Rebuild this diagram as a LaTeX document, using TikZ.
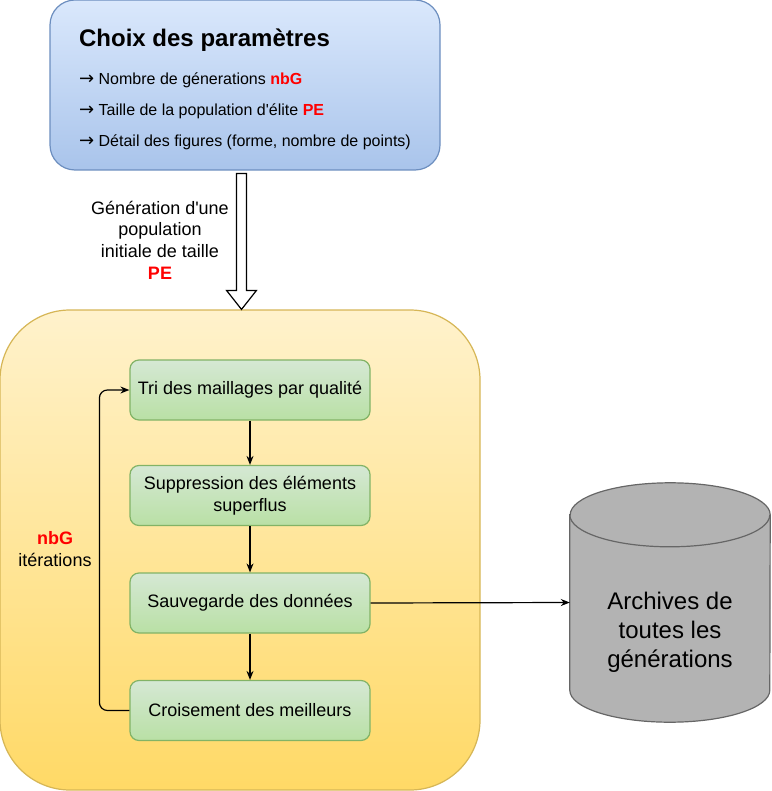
\documentclass[tikz,border=0pt]{standalone}
\usepackage{fontspec}
\setmainfont{Liberation Sans}[Ligatures=TeXOff]
\newfontfamily\arrowfont{DejaVu Sans}
\usepackage{xcolor}
\usetikzlibrary{arrows.meta,positioning,calc}

\definecolor{blueTop}{HTML}{DAE8FC}
\definecolor{blueBot}{HTML}{A9C4EB}
\definecolor{blueLine}{HTML}{6C8EBF}
\definecolor{yelTop}{HTML}{FFF2CC}
\definecolor{yelBot}{HTML}{FFD966}
\definecolor{yelLine}{HTML}{D6B656}
\definecolor{grnTop}{HTML}{D5E8D4}
\definecolor{grnBot}{HTML}{B9E0A5}
\definecolor{grnLine}{HTML}{82B366}
\definecolor{cylFill}{HTML}{B3B3B3}
\definecolor{cylLine}{HTML}{666666}
\definecolor{keyRed}{HTML}{FF0000}

\newcommand{\hl}[1]{{\bfseries\color{keyRed}#1}}
\newcommand{\ar}{{\arrowfont\fontsize{18}{19.2}\selectfont →}\ }

\begin{document}
\begin{tikzpicture}[
  x=1pt, y=-1pt,
  font=\fontsize{18}{21.6}\selectfont,
  bluebox/.style={draw=blueLine, line width=1.2pt, rounded corners=25pt, top color=blueTop, bottom color=blueBot, minimum width=390pt, minimum height=170pt, inner sep=0pt, align=left, font=\fontsize{16}{19.2}\selectfont},
  yelbox/.style={draw=yelLine, line width=1.2pt, rounded corners=70pt, top color=yelTop, bottom color=yelBot, minimum width=480pt, minimum height=480pt},
  stepbox/.style={draw=grnLine, line width=1.2pt, rounded corners=9pt, top color=grnTop, bottom color=grnBot, minimum width=240pt, minimum height=60pt, align=center, inner sep=2pt},
  cyl/.style={draw=cylLine, line width=1.2pt, fill=cylFill},
  arr/.style={-{Stealth[length=9pt,width=7pt]}, line width=1.2pt}
]
  \useasboundingbox (0,0) rectangle (771,791);

  % parametres
  \node[bluebox] (param) at (245,85) {%
    \rule{0pt}{26.5pt}{\fontsize{24}{28.8}\selectfont\bfseries Choix des paramètres}\\[18.5pt]
    \ar Nombre de génerations \hl{nbG}\\[12pt]
    \ar Taille de la population d'élite \hl{PE}\\[12pt]
    \ar Détail des figures (forme, nombre de points)};

  % boucle principale
  \node[yelbox] (pop) at (240,550) {};
  \node[stepbox] (tri) at (250,390) {Tri des maillages par qualité};
  \node[stepbox] (supp) at (250,495.5) {Suppression des éléments\\superflus};
  \node[stepbox] (sauv) at (250,603) {Sauvegarde des données};
  \node[stepbox] (crois) at (250,710.5) {Croisement des meilleurs};
  \node[align=center] (iter) at (55,549) {\hl{nbG}\\itérations};

  % fleche d'initialisation
  \draw[line width=1.2pt, fill=white]
    ($(param.south)+(-8.5,3)$) -- ($(param.south)+(1.5,3)$) -- ($(pop.north)+(6.5,-19)$)
    -- ($(pop.north)+(16.5,-19)$) -- ($(pop.north)+(1.5,0)$) -- ($(pop.north)+(-13.5,-19)$)
    -- ($(pop.north)+(-3.5,-19)$) -- cycle;
  \node[align=center] (genlab) at (160,240) {Génération d'une\\population\\initiale de taille\\\hl{PE}};

  % archives
  \node[minimum width=200pt, minimum height=239pt, inner sep=0pt] (archive) at (670,602.5) {};
  \draw[cyl] ($(archive.north west)+(0,32)$) -- ($(archive.south west)+(0,-32)$)
    arc[start angle=180, end angle=360, x radius=100pt, y radius=32pt]
    -- ($(archive.north east)+(0,32)$)
    arc[start angle=0, end angle=180, x radius=100pt, y radius=32pt] -- cycle;
  \draw[cylLine, line width=1.2pt] ($(archive.north west)+(0,32)$)
    arc[start angle=180, end angle=360, x radius=100pt, y radius=32pt];
  \node[align=center, font=\fontsize{24}{29}\selectfont] (archtext) at (670,632) {Archives de\\toutes les\\générations};

  \draw[arr] (tri) -- (supp);
  \draw[arr] (supp) -- (sauv);
  \draw[arr] (sauv) -- (crois);
  \draw[arr, rounded corners=8pt] (crois.west) -- ++(-30,0) |- (tri.west);
  \draw[arr] (sauv.east) -- (archive.west);
\end{tikzpicture}
\end{document}
